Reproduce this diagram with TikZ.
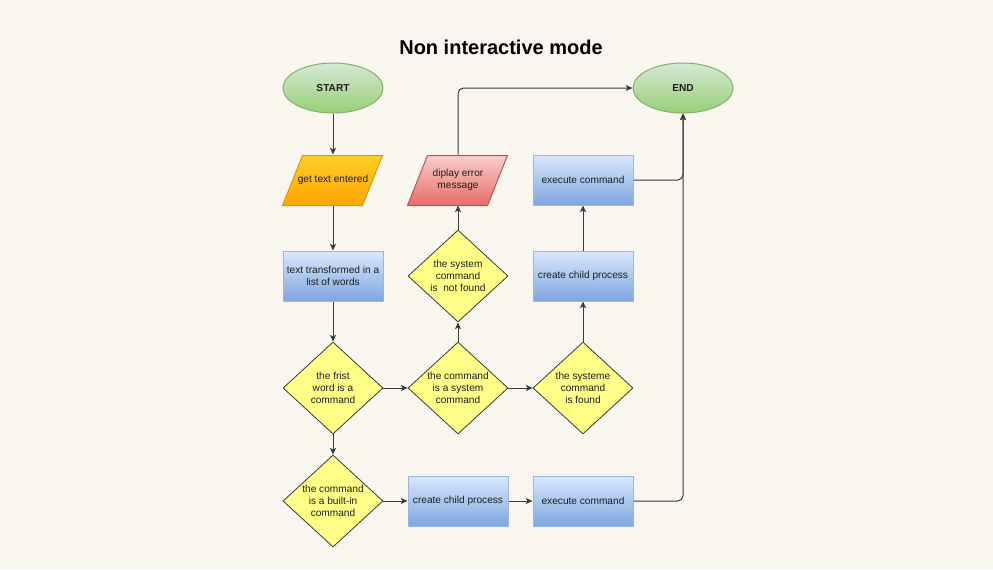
\documentclass[tikz,border=0pt]{standalone}
\usepackage{fontspec}
\setmainfont{Liberation Sans}
\usetikzlibrary{shapes.geometric,arrows.meta}

\pgfdeclarelayer{background}
\pgfsetlayers{background,main}

\definecolor{bgcol}{HTML}{F8F6EF}
\definecolor{greenTop}{HTML}{D5E8D4}
\definecolor{greenBot}{HTML}{97D077}
\definecolor{greenLine}{HTML}{82B366}
\definecolor{orangeTop}{HTML}{FFCD28}
\definecolor{orangeBot}{HTML}{FFA500}
\definecolor{orangeLine}{HTML}{D79B00}
\definecolor{redTop}{HTML}{F8CECC}
\definecolor{redBot}{HTML}{EA6B66}
\definecolor{redLine}{HTML}{B85450}
\definecolor{blueTop}{HTML}{DAE8FC}
\definecolor{blueBot}{HTML}{7EA6E0}
\definecolor{blueLine}{HTML}{9AB6E0}
\definecolor{yellowFill}{HTML}{FFFF88}
\definecolor{yellowLine}{HTML}{36393D}
\definecolor{edgeCol}{HTML}{3A3A3A}
\definecolor{textCol}{HTML}{1E1E1E}

\tikzset{
  base/.style={font=\fontsize{7.6pt}{8.8pt}\selectfont, text=textCol, align=center, inner sep=1pt, line width=0.75pt},
  terminal/.style={base, ellipse, minimum width=75pt, minimum height=37.5pt,
    top color=greenTop, bottom color=greenBot, draw=greenLine, font=\fontsize{7.6pt}{8.8pt}\selectfont\bfseries},
  % text holder of an input/output box; its slanted outline is drawn behind it
  inputbox/.style={base, rectangle, minimum width=75pt, minimum height=37.5pt},
  slanted/.style={line width=0.75pt},
  procbox/.style={base, rectangle, minimum width=75pt, minimum height=37.5pt,
    top color=blueTop, bottom color=blueBot, draw=blueLine},
  decision/.style={base, diamond, minimum width=75pt, minimum height=69pt, inner sep=0pt,
    fill=yellowFill, draw=yellowLine, line width=0.6pt},
  conn/.style={draw=edgeCol, line width=0.75pt, -{Stealth[length=5pt,width=4.5pt,inset=1.2pt]}},
  routed/.style={conn, rounded corners=4pt}
}

\begin{document}
\begin{tikzpicture}[x=0.75pt, y=-0.75pt]
  % page
  \begin{pgfonlayer}{background}
    \fill[bgcol] (0,0) rectangle (993,569);
  \end{pgfonlayer}
  \useasboundingbox (0,0) rectangle (993,569);

  \node[font=\fontsize{15pt}{18pt}\selectfont\bfseries, text=black] (title) at (501,47) {Non interactive mode};

  % first column
  \node[terminal] (start) at (333,88) {START};
  \node[inputbox] (gettext) at (333,180) {get text entered};
  \node[procbox] (words) at (333,276) {text transformed in a\\list of words};
  \node[decision, label={[base, align=center]center:the frist\\word is a\\command}] (isCmd) at (333,388) {};
  \node[decision, label={[base, align=center]center:the command\\is a built-in\\command}] (isBuiltin) at (333,501) {};

  % second column
  \node[inputbox] (error) at (458,180) {diplay error\\message};
  \node[decision, label={[base, align=center]center:the system\\command\\is\ \ not found}] (notFound) at (458,276) {};
  \node[decision, label={[base, align=center]center:the command\\is a system\\command}] (isSystem) at (458,388) {};
  \node[procbox] (childB) at (458,501) {create child process};

  % third column
  \node[terminal] (end) at (683,88) {END};
  \node[procbox] (execTop) at (583,180) {execute command};
  \node[procbox] (childTop) at (583,276) {create child process};
  \node[decision, label={[base, align=center]center:the systeme\\command\\is found}] (found) at (583,388) {};
  \node[procbox] (execB) at (583,501) {execute command};

  % slanted outlines of the input/output boxes
  \begin{pgfonlayer}{background}
    \shade[slanted, top color=orangeTop, bottom color=orangeBot, draw=orangeLine]
      (gettext.south west) -- ++(80,0) -- ++(20,-50) -- ++(-80,0) -- cycle;
    \shade[slanted, top color=redTop, bottom color=redBot, draw=redLine]
      (error.south west) -- ++(80,0) -- ++(20,-50) -- ++(-80,0) -- cycle;
  \end{pgfonlayer}

  % connectors
  \draw[conn] (start) -- (gettext);
  \draw[conn] (gettext) -- (words);
  \draw[conn] (words) -- (isCmd);
  \draw[conn] (isCmd) -- (isBuiltin);
  \draw[conn] (isCmd) -- (isSystem);
  \draw[conn] (isSystem) -- (found);
  \draw[conn] (isSystem) -- (notFound);
  \draw[conn] (notFound) -- (error);
  \draw[routed] (error.north) |- (end.west);
  \draw[conn] (found) -- (childTop);
  \draw[conn] (childTop) -- (execTop);
  \draw[routed] (execTop.east) -| (end.south);
  \draw[conn] (isBuiltin) -- (childB);
  \draw[conn] (childB) -- (execB);
  \draw[routed] (execB.east) -| (end.south);
\end{tikzpicture}
\end{document}
